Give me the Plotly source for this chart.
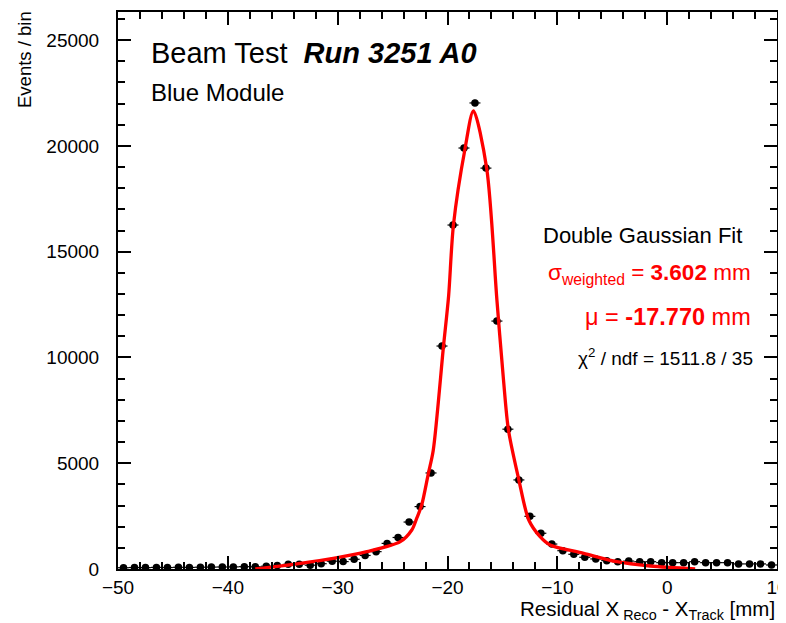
import numpy as np
import plotly.graph_objects as go

# ---- data ----
bin_centers = [-49.5 + i for i in range(60)]
counts = [60, 70, 65, 75, 70, 80, 75, 85, 90, 95,
          100, 110, 105, 130, 160, 220, 230, 180, 250, 370,
          350, 460, 640, 820, 1210, 1490, 2220, 2950, 4540, 10540,
          16260, 19900, 22030, 18950, 11720, 6610, 4210, 2490, 1690, 1180,
          865, 695, 555, 475, 395, 345, 375, 345, 345, 300,
          300, 300, 345, 300, 300, 300, 240, 240, 240, 190]

fit_x = [-37.5, -33.4, -30.4, -27.35, -24.3, -23.25, -22.8, -22.35, -21.74, -21.3,
         -20.37, -19.9, -19.46, -18.4, -17.64, -16.43, -15.5, -14.9, -14.45,
         -13.5, -12.6, -11.57, -10.66, -7.6, -4.58, -1.55, 2.55]
fit_y = [0, 270, 505, 818, 1290, 1843, 2400, 3025, 4523, 5600,
         10505, 12900, 16257, 19880, 21660, 18937, 12713, 8932, 6569,
         4206, 2316, 1527, 1134, 742, 345, 142, 0]

x_ticks = [-50, -40, -30, -20, -10, 0, 10]
y_ticks = [0, 5000, 10000, 15000, 20000, 25000]
y_tick_labels = ["0", "5000", "10000", "15000", "20000", "25000"]

FONT = "Liberation Sans, Arial, Helvetica, sans-serif"

fig = go.Figure()
fig.add_trace(go.Scatter(
    x=bin_centers, y=counts, mode="markers",
    marker=dict(color="black", size=7.5, symbol="circle"),
    error_x=dict(type="constant", value=0.5, width=0, thickness=1.2, color="black"),
    error_y=dict(type="data", array=list(np.sqrt(counts)), width=0, thickness=1.2, color="black"),
    showlegend=False, hoverinfo="x+y"))
fig.add_trace(go.Scatter(
    x=fit_x, y=fit_y, mode="lines", line=dict(color="#ff0000", width=3.3, shape="spline", smoothing=0.8),
    showlegend=False))

axis_common = dict(showline=True, linecolor="black", linewidth=2, mirror="allticks",
                   ticks="inside", tickcolor="black", tickwidth=1.5, showgrid=False, zeroline=False,
                   automargin=False,
                   tickfont=dict(family=FONT, size=19, color="black"))

fig.update_xaxes(range=[-50, 10], tickvals=x_ticks, ticklen=13,
                 minor=dict(ticks="inside", ticklen=7, dtick=2, tickcolor="black", tickwidth=1.5, showgrid=False),
                 **axis_common)
fig.update_yaxes(range=[0, 26330], tickvals=y_ticks, ticktext=y_tick_labels, ticklen=13,
                 ticklabelstandoff=13,
                 minor=dict(ticks="inside", ticklen=7, dtick=1000, tickcolor="black", tickwidth=1.5, showgrid=False),
                 **axis_common)

ann = []
ann.append(dict(xref="paper", yref="paper", x=-0.141, y=0.914, xanchor="center", yanchor="middle",
                text="Events / bin", textangle=-90, showarrow=False,
                font=dict(family=FONT, size=18.5, color="black")))
ann.append(dict(xref="paper", yref="paper", x=1.0, y=-0.046, xanchor="right", yanchor="top",
                text="Residual X<sub> Reco</sub> - X<sub>Track</sub> [mm]", showarrow=False,
                font=dict(family=FONT, size=20.5, color="black")))
ann.append(dict(xref="paper", yref="paper", x=0.047, y=0.926, xanchor="left", yanchor="middle",
                text="Beam Test  <b><i>Run 3251 A0</i></b>", showarrow=False,
                font=dict(family=FONT, size=29, color="black")))
ann.append(dict(xref="paper", yref="paper", x=0.047, y=0.856, xanchor="left", yanchor="middle",
                text="Blue Module", showarrow=False,
                font=dict(family=FONT, size=24, color="black")))
ann.append(dict(xref="paper", yref="paper", x=0.950, y=0.598, xanchor="right", yanchor="middle",
                text="Double Gaussian Fit", showarrow=False,
                font=dict(family=FONT, size=22, color="black")))
ann.append(dict(xref="paper", yref="paper", x=0.964, y=0.530, xanchor="right", yanchor="middle",
                text="σ<sub>weighted</sub> = <b>3.602</b> mm", showarrow=False,
                font=dict(family=FONT, size=22.5, color="#ff0000")))
ann.append(dict(xref="paper", yref="paper", x=0.964, y=0.452, xanchor="right", yanchor="middle",
                text="μ = <b>-17.770</b> mm", showarrow=False,
                font=dict(family=FONT, size=23.5, color="#ff0000")))
ann.append(dict(xref="paper", yref="paper", x=0.966, y=0.381, xanchor="right", yanchor="middle",
                text="χ<sup>2</sup> / ndf = 1511.8 / 35", showarrow=False,
                font=dict(family=FONT, size=19, color="black")))

# page body adds ~8px offset; margins compensate so the frame lands where the reference has it
fig.update_layout(width=786, height=623, margin=dict(l=110, r=17, t=4, b=62),
                  paper_bgcolor="white", plot_bgcolor="white", annotations=ann,
                  font=dict(family=FONT))
fig.write_html("out.html")
